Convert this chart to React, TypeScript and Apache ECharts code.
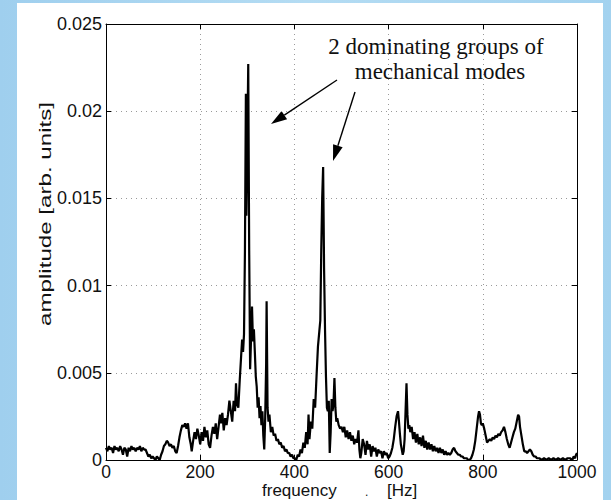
import React, { useEffect, useRef } from "react";
import * as echarts from "echarts";

// Frequency (Hz) and amplitude (arb. units)
const freq = [
  0, 3, 6, 9, 12, 15, 18, 21, 24, 27, 30, 33, 36, 39, 42, 45, 48, 51, 54, 57, 60, 63, 66, 69, 72, 75, 78, 81, 84, 87, 90, 93, 96, 99,
  102, 105, 108, 111, 114, 117, 120, 123, 126, 129, 132, 135, 138, 141, 144, 147, 150, 153, 156, 159, 162, 165, 168, 171, 174, 177,
  180, 182, 185, 188, 191, 194, 197, 200, 203, 206, 209, 212, 215, 218, 221, 224, 227, 230, 233, 236, 239, 242, 244, 247, 250, 253,
  256, 259, 262, 265, 268, 271, 274, 276, 278, 281, 284, 287, 289, 291, 293, 295, 297, 298, 300, 302, 304, 306, 308, 310, 312, 314,
  316, 318, 320, 322, 324, 326, 328, 330, 332, 334, 336, 338, 340, 341, 343, 345, 347, 350, 353, 356, 359, 362, 365, 368, 371, 374,
  377, 380, 383, 386, 389, 392, 395, 398, 401, 404, 407, 410, 413, 416, 419, 422, 425, 428, 430, 432, 435, 438, 441, 444, 447, 450,
  453, 455, 457, 459, 461, 463, 465, 467, 469, 471, 473, 475, 477, 479, 481, 483, 485, 487, 489, 491, 494, 497, 500, 503, 506, 509,
  512, 515, 518, 521, 524, 527, 530, 533, 536, 538, 540, 542, 545, 548, 551, 554, 557, 560, 563, 566, 569, 572, 575, 578, 581, 584,
  587, 590, 593, 596, 599, 602, 605, 608, 611, 614, 617, 620, 622, 624, 626, 628, 630, 632, 634, 636, 638, 640, 642, 644, 646, 649,
  652, 655, 658, 661, 664, 667, 670, 673, 676, 679, 682, 685, 688, 691, 694, 697, 700, 703, 706, 709, 712, 715, 718, 721, 724, 727,
  730, 733, 736, 739, 742, 745, 748, 751, 754, 757, 760, 763, 766, 769, 772, 775, 778, 781, 784, 787, 790, 792, 794, 796, 798, 800,
  803, 806, 809, 812, 815, 818, 821, 824, 827, 830, 833, 836, 839, 842, 845, 848, 851, 854, 857, 860, 863, 866, 869, 872, 875, 877,
  879, 882, 885, 888, 891, 894, 897, 900, 903, 906, 909, 912, 915, 920, 925, 930, 935, 940, 945, 950, 955, 960, 965, 970, 975, 980,
  985, 990, 993, 996, 998, 1000,
];
const amp = [
  0.0007, 0.0005, 0.0008, 0.0006, 0.0007, 0.0004, 0.0008, 0.0006, 0.0007, 0.0005, 0.0008, 0.0006, 0.0003, 0.0007, 0.0006, 0.0002, 0.0007, 0.0005, 0.0008, 0.0006, 0.0007, 0.0005, 0.0007, 0.0006, 0.0008, 0.0005, 0.0007, 0.0006, 0.0006, 0.0004, 0.0002, 0.0003, 0.0001, 0.0002,
  0.0001, 0.0, 0.0002, 0.0001, 0.0, 0.0003, 0.0005, 0.0008, 0.0009, 0.0011, 0.001, 0.0008, 0.0009, 0.0007, 0.0008, 0.0005, 0.0004, 0.0008, 0.0013, 0.0017, 0.002, 0.0019, 0.0021, 0.0018, 0.0021, 0.0013,
  0.0009, 0.0005, 0.0011, 0.0016, 0.0012, 0.0018, 0.0014, 0.0009, 0.0016, 0.0011, 0.0019, 0.0013, 0.0017, 0.0009, 0.0007, 0.0014, 0.0019, 0.0015, 0.0021, 0.0012, 0.0019, 0.0026, 0.0021, 0.0027, 0.0017, 0.0024,
  0.002, 0.0026, 0.0034, 0.0028, 0.0022, 0.0034, 0.0028, 0.0044, 0.0032, 0.003, 0.0046, 0.006, 0.0069, 0.0062, 0.0072, 0.012, 0.021, 0.014, 0.018, 0.0227, 0.012, 0.0052, 0.007, 0.0088, 0.0068, 0.0075,
  0.0062, 0.0048, 0.0042, 0.003, 0.0036, 0.0024, 0.0031, 0.002, 0.0028, 0.0014, 0.0006, 0.0024, 0.0055, 0.0091, 0.003, 0.0022, 0.0026, 0.0016, 0.0019, 0.0014, 0.0015, 0.0011, 0.0012, 0.0009, 0.001, 0.0007,
  0.0008, 0.0005, 0.0006, 0.0004, 0.0004, 0.0002, 0.0003, 0.0001, 0.0001, 0.0, 0.0003, 0.0002, 0.0006, 0.0004, 0.001, 0.0007, 0.0016, 0.0009, 0.0026, 0.0012, 0.0022, 0.0018, 0.0035, 0.003, 0.0048, 0.0065,
  0.0074, 0.008, 0.012, 0.015, 0.0168, 0.011, 0.0075, 0.0048, 0.003, 0.0028, 0.0034, 0.0004, 0.0016, 0.0035, 0.0028, 0.0032, 0.0047, 0.003, 0.0022, 0.0024, 0.002, 0.0018, 0.0019, 0.0016, 0.0019, 0.0013,
  0.0017, 0.0012, 0.0016, 0.0011, 0.0014, 0.0009, 0.0012, 0.001, 0.0017, 0.0006, 0.0001, 0.0004, 0.0012, 0.0009, 0.0003, 0.0011, 0.0006, 0.0009, 0.0002, 0.0008, 0.0005, 0.0007, 0.0002, 0.0006, 0.0004, 0.0005,
  0.0001, 0.0005, 0.0003, 0.0004, 0.0001, 0.0002, 0.0004, 0.0007, 0.0012, 0.0019, 0.0025, 0.0028, 0.0022, 0.0015, 0.0009, 0.0006, 0.0003, 0.0005, 0.0012, 0.0028, 0.0044, 0.0026, 0.0018, 0.002, 0.0016, 0.0019,
  0.0012, 0.0016, 0.001, 0.0015, 0.0009, 0.0013, 0.0008, 0.0014, 0.0007, 0.0011, 0.0006, 0.001, 0.0006, 0.0009, 0.0005, 0.0008, 0.0005, 0.0007, 0.0004, 0.0007, 0.0004, 0.0006, 0.0003, 0.0005, 0.0003, 0.0004,
  0.0003, 0.0004, 0.0006, 0.0007, 0.0005, 0.0004, 0.0003, 0.0003, 0.0002, 0.0002, 0.0001, 0.0001, 0.0001, 0.0, 0.0, 0.0001, 0.0003, 0.0006, 0.0011, 0.0018, 0.0025, 0.0028, 0.0026, 0.0021, 0.002, 0.0021,
  0.0018, 0.0014, 0.001, 0.0011, 0.0012, 0.0011, 0.0013, 0.0012, 0.0014, 0.0013, 0.0015, 0.0014, 0.0016, 0.0017, 0.0019, 0.0016, 0.0012, 0.0009, 0.0007, 0.001, 0.0013, 0.0016, 0.0018, 0.0022, 0.0026, 0.0025,
  0.0019, 0.0014, 0.0009, 0.0005, 0.0005, 0.0004, 0.0005, 0.0006, 0.0005, 0.0003, 0.0002, 0.0002, 0.0001, 0.0001, 0.0, 0.0001, 0.0, 0.0001, 0.0, 0.0001, 0.0, 0.0001, 0.0, 0.0001, 0.0, 0.0001,
  0.0001, 0.0, 0.0002, 0.0001, 0.0003, 0.0004,
];

const xTickLabels = ["0", "200", "400", "600", "800", "1000"];
const yTickLabels = ["0", "0.005", "0.01", "0.015", "0.02", "0.025"];
const annotationLines = ["2 dominating groups of", "mechanical modes"];
const xTitle = "frequency";
const xUnit = "[Hz]";
const yTitle = "amplitude [arb. units]";

const SANS = "'Liberation Sans', Arial, Helvetica, sans-serif";
const SERIF = "'Liberation Serif', 'Times New Roman', serif";

function arrow(x1: number, y1: number, x2: number, y2: number, len = 16, half = 5) {
  const dx = x2 - x1;
  const dy = y2 - y1;
  const L = Math.sqrt(dx * dx + dy * dy);
  const ux = dx / L;
  const uy = dy / L;
  const bx = x2 - ux * len;
  const by = y2 - uy * len;
  const nx = -uy * half;
  const ny = ux * half;
  return [
    { type: "line", shape: { x1, y1, x2: bx, y2: by }, style: { stroke: "#000", lineWidth: 1.4 } },
    {
      type: "polygon",
      shape: { points: [[x2, y2], [bx + nx, by + ny], [bx - nx, by - ny]] },
      style: { fill: "#000" },
    },
  ];
}

export default function App() {
  const ref = useRef<HTMLDivElement>(null);
  useEffect(() => {
    if (!ref.current) return;
    const chart = echarts.init(ref.current, null, { renderer: "svg" });
    const data = freq.map((f, i) => [f, amp[i]]);
    const axisLine = { show: true, onZero: false, lineStyle: { color: "#000", width: 1 } };
    const tick = { show: true, inside: true, length: 5, lineStyle: { color: "#000", width: 1 } };
    const grid = { show: true, lineStyle: { color: "#9a9a9a", width: 1, type: [1, 4] } };
    chart.setOption({
      animation: false,
      backgroundColor: "transparent",
      grid: { left: 106, right: 34, top: 24, bottom: 40 },
      xAxis: [
        {
          type: "value", min: 0, max: 1000, interval: 200, position: "bottom",
          axisLine, axisTick: tick, splitLine: grid,
          axisLabel: {
            color: "#111", fontSize: 17.5, fontFamily: SANS, margin: 4, lineHeight: 15,
            formatter: (v: number) => xTickLabels[Math.round(v / 200)],
          },
        },
        {
          type: "value", min: 0, max: 1000, interval: 200, position: "top",
          axisLine, axisTick: tick, splitLine: { show: false }, axisLabel: { show: false },
        },
      ],
      yAxis: [
        {
          type: "value", min: 0, max: 0.025, interval: 0.005, position: "left",
          axisLine, axisTick: tick, splitLine: grid,
          axisLabel: {
            color: "#111", fontSize: 18, fontFamily: SANS, margin: 4,
            formatter: (v: number) => yTickLabels[Math.round(v / 0.005)],
          },
        },
        {
          type: "value", min: 0, max: 0.025, interval: 0.005, position: "right",
          axisLine, axisTick: tick, splitLine: { show: false }, axisLabel: { show: false },
        },
      ],
      series: [
        {
          type: "line", xAxisIndex: 0, yAxisIndex: 0, data, showSymbol: false, symbol: "none",
          lineStyle: { color: "#000", width: 2.2 }, clip: true,
        },
      ],
      graphic: [
        { type: "text", x: 436, y: 46, style: { text: annotationLines[0], fontFamily: SERIF, fontSize: 23, fill: "#111", align: "center", verticalAlign: "middle" } },
        { type: "text", x: 440, y: 71, style: { text: annotationLines[1], fontFamily: SERIF, fontSize: 23, fill: "#111", align: "center", verticalAlign: "middle" } },
        ...arrow(337, 80, 271, 124),
        ...arrow(355, 92, 333, 161),
        { type: "text", x: 45, y: 214, rotation: Math.PI / 2, scaleX: 1.42, style: { text: yTitle, fontFamily: SANS, fontSize: 17, fill: "#111", align: "center", verticalAlign: "middle" } },
        { type: "text", x: 262, y: 490.5, style: { text: xTitle, fontFamily: SANS, fontSize: 17, lineHeight: 13, fill: "#111", align: "left", verticalAlign: "middle" } },
        { type: "text", x: 365, y: 492, style: { text: ".", fontFamily: SANS, fontSize: 12, lineHeight: 9, fill: "#111", align: "left", verticalAlign: "middle" } },
        { type: "text", x: 387, y: 490.5, style: { text: xUnit, fontFamily: SANS, fontSize: 17, lineHeight: 13, fill: "#111", align: "left", verticalAlign: "middle" } },
      ],
    });
    return () => chart.dispose();
  }, []);
  return (
    <div style={{ position: "fixed", left: 0, top: 0, width: 611, height: 500, overflow: "hidden", background: "linear-gradient(90deg, #9fcfee 0%, #b4dcf3 50%, #a3d2ef 100%)" }}>
      <div style={{ position: "absolute", left: 17, top: 3, width: 586, height: 497, background: "#fff" }} />
      <div ref={ref} style={{ position: "absolute", left: 0, top: 0, width: 611, height: 500 }} />
    </div>
  );
}
